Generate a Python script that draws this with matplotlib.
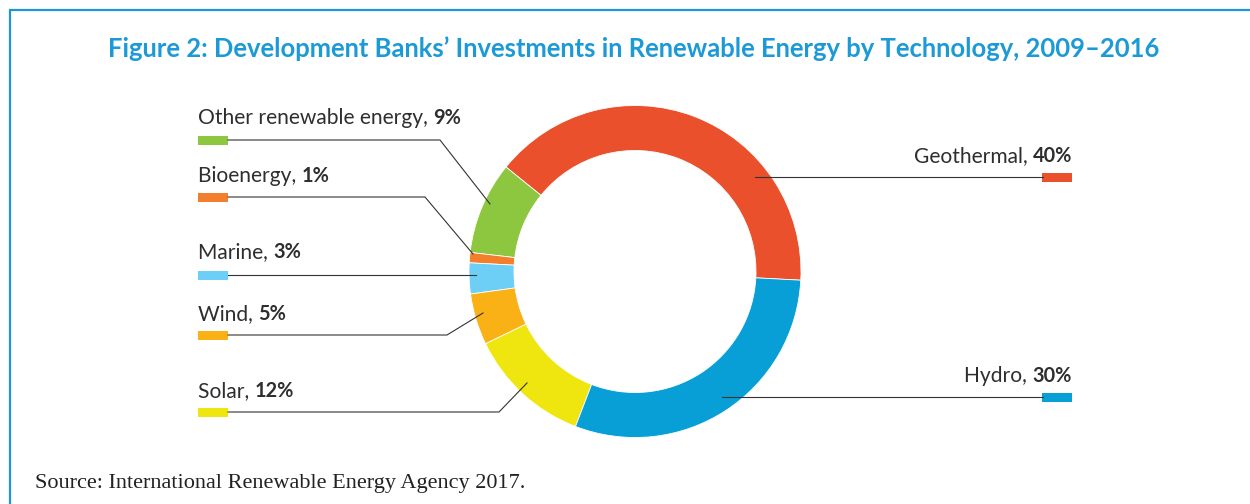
import matplotlib
matplotlib.use("Agg")
import matplotlib.pyplot as plt
from matplotlib.patches import Rectangle

# Data
technologies = ["Geothermal", "Other renewable energy", "Bioenergy", "Marine", "Wind", "Solar", "Hydro"]
shares = [40, 9, 1, 3, 5, 12, 30]
colors = ["#E9502B", "#8DC63F", "#F37F2C", "#6DCFF6", "#F9B116", "#EFE50F", "#079FD6"]

title = "Figure 2: Development Banks\u2019 Investments in Renewable Energy by Technology, 2009\u20132016"
source = "Source: International Renewable Energy Agency 2017."

W, H = 1250, 504
fig = plt.figure(figsize=(W / 100, H / 100), dpi=100)
ax = fig.add_axes([0, 0, 1, 1])
ax.set_axis_off()

def Y(y):
    # top-down pixel row to axis y
    return H - y

# Donut
cx, cy, r_out, ring = 635, 271.5, 166, 45
ax.pie(shares, colors=colors, startangle=-3, counterclock=True,
       center=(cx, Y(cy)), radius=r_out,
       wedgeprops=dict(width=ring, edgecolor="white", linewidth=0.6))
ax.set_xlim(0, W)
ax.set_ylim(0, H)
ax.set_aspect("equal")

renderer = fig.canvas.get_renderer()
text_color = "#2e2e2e"
line_color = "#333333"
label_font = "Lato"

def text_width(t):
    return t.get_window_extent(renderer=renderer).width

def fit_size(s, target, **kw):
    t = ax.text(0, 0, s, fontsize=10, **kw)
    w = text_width(t)
    t.remove()
    return 10 * target / w

# label font size fitted to the widest left label
lab_fs = fit_size("Other renewable energy, ", 235, family=label_font, fontweight="normal")
pct_fs = lab_fs * 0.95

def label_left(x, base, name, pct):
    t = ax.text(x, Y(base), f"{name}, ", family=label_font, fontweight="normal",
                fontsize=lab_fs, color=text_color, ha="left", va="baseline")
    w = text_width(t)
    ax.text(x + w, Y(base), f"{pct}%", family=label_font, fontweight="bold",
            fontsize=pct_fs, color=text_color, ha="left", va="baseline")

def label_right(x, base, name, pct):
    t = ax.text(x, Y(base), f"{pct}%", family=label_font, fontweight="bold",
                fontsize=pct_fs, color=text_color, ha="right", va="baseline")
    w = text_width(t)
    ax.text(x - w, Y(base), f"{name}, ", family=label_font, fontweight="normal",
            fontsize=lab_fs, color=text_color, ha="right", va="baseline")

sw_w, sw_h = 30, 9

# Left-side labels: (technology index, baseline, swatch row, leader path)
left_layout = [
    (1, 124, 140, [(228, 140), (440, 140), (490, 204)]),
    (2, 182, 197, [(228, 197), (425, 197), (473, 254)]),
    (3, 258, 275, [(228, 275), (476, 275)]),
    (4, 320, 335, [(228, 335), (447, 335), (483, 313)]),
    (5, 397, 412, [(228, 412), (499, 412), (527, 383)]),
]
for idx, base, sy, path in left_layout:
    label_left(198, base, technologies[idx], shares[idx])
    ax.add_patch(Rectangle((198, Y(sy) - sw_h / 2), sw_w, sw_h, color=colors[idx], lw=0))
    ax.plot([p[0] for p in path], [Y(p[1]) for p in path], color=line_color, lw=0.8,
            solid_joinstyle="miter")

# Right-side labels
right_layout = [
    (0, 162, 177, [(755, 177), (1043, 177)]),
    (6, 382, 397, [(722, 397), (1043, 397)]),
]
for idx, base, sy, path in right_layout:
    label_right(1072, base, technologies[idx], shares[idx])
    ax.add_patch(Rectangle((1042, Y(sy) - sw_h / 2), sw_w, sw_h, color=colors[idx], lw=0))
    ax.plot([p[0] for p in path], [Y(p[1]) for p in path], color=line_color, lw=0.8)

# Title
title_fs = fit_size(title, 1058, family="Lato", fontweight="bold")
ax.text(634, Y(57), title, family="Lato", fontweight="bold", fontsize=title_fs,
        color="#1C9AD6", ha="center", va="baseline")

# Source note
src_fs = fit_size(source, 490, family="Liberation Serif")
ax.text(35, Y(488), source, family="Liberation Serif", fontsize=src_fs,
        color="#222222", ha="left", va="baseline")

# Frame: top rule and left rule
frame_color = "#1C96D4"
ax.plot([9, W], [Y(10), Y(10)], color=frame_color, lw=1.6, solid_capstyle="butt")
ax.plot([9.5, 9.5], [Y(10), 0], color=frame_color, lw=1.6, solid_capstyle="butt")

fig.savefig("out.png", dpi=100)
